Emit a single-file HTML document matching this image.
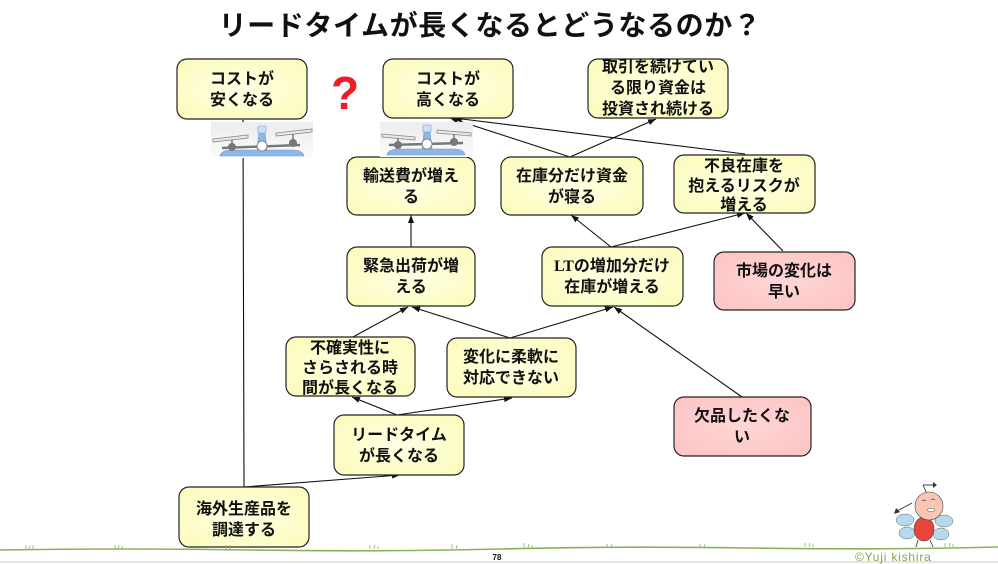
<!DOCTYPE html>
<html><head><meta charset="utf-8">
<style>
html,body{margin:0;padding:0;background:#fff;}
svg{display:block;}
text{font-family:"Liberation Sans","Noto Sans CJK JP",sans-serif;}
.t{font-size:16px;font-weight:bold;fill:#111;text-anchor:middle;}
</style></head>
<body>
<svg width="998" height="564" viewBox="0 0 998 564" xmlns="http://www.w3.org/2000/svg">
<defs>
<marker id="ah" markerWidth="8" markerHeight="6" refX="8" refY="3" orient="auto" markerUnits="userSpaceOnUse">
<path d="M0,0 L8,3 L0,6 z" fill="#111"/>
</marker>
<radialGradient id="yg" cx="50%" cy="50%" r="60%">
<stop offset="0%" stop-color="#ffffe4"/><stop offset="100%" stop-color="#fcfcc0"/>
</radialGradient>
<radialGradient id="pg" cx="50%" cy="50%" r="60%">
<stop offset="0%" stop-color="#ffd6d6"/><stop offset="100%" stop-color="#fdc6c6"/>
</radialGradient>
<linearGradient id="sg" x1="0" y1="0" x2="0" y2="1">
<stop offset="0%" stop-color="#ececec"/><stop offset="100%" stop-color="#fbfbfb"/>
</linearGradient>
</defs>

<!-- Title -->
<text x="490" y="35" text-anchor="middle" style="font-size:28px;font-weight:bold;fill:#111;letter-spacing:0.6px">リードタイムが長くなるとどうなるのか？</text>

<!-- connectors -->
<g stroke="#111" stroke-width="1.1" fill="none" marker-end="url(#ah)">
<line x1="244" y1="487" x2="243" y2="120"/>
<line x1="244" y1="487" x2="400" y2="475"/>
<line x1="397" y1="415" x2="352" y2="397"/>
<line x1="397" y1="415" x2="512" y2="398"/>
<line x1="353" y1="337" x2="408" y2="307"/>
<line x1="510" y1="338" x2="412" y2="307"/>
<line x1="510" y1="338" x2="613" y2="307"/>
<line x1="742" y1="397" x2="614" y2="307"/>
<line x1="411" y1="247" x2="411" y2="215"/>
<line x1="611" y1="247" x2="571" y2="215"/>
<line x1="611" y1="247" x2="745" y2="213"/>
<line x1="783" y1="251" x2="746" y2="213"/>
<line x1="570" y1="157" x2="656" y2="119"/>
<line x1="570" y1="157" x2="450" y2="118"/>
<line x1="745" y1="154" x2="454" y2="118"/>
</g>

<!-- boxes -->
<g stroke="#222" stroke-width="1.2">
<rect x="177" y="59" width="130" height="60" rx="10" fill="url(#yg)"/>
<rect x="383" y="59" width="130" height="59" rx="10" fill="url(#yg)"/>
<rect x="588" y="59" width="140" height="59" rx="10" fill="url(#yg)"/>
<rect x="347" y="157" width="128" height="58" rx="10" fill="url(#yg)"/>
<rect x="501" y="157" width="142" height="58" rx="10" fill="url(#yg)"/>
<rect x="674" y="155" width="141" height="58" rx="10" fill="url(#yg)"/>
<rect x="347" y="247" width="128" height="59" rx="10" fill="url(#yg)"/>
<rect x="542" y="247" width="141" height="59" rx="10" fill="url(#yg)"/>
<rect x="714" y="252" width="141" height="58" rx="10" fill="url(#pg)"/>
<rect x="286" y="337" width="129" height="59" rx="10" fill="url(#yg)"/>
<rect x="447" y="338" width="129" height="59" rx="10" fill="url(#yg)"/>
<rect x="674" y="397" width="137" height="59" rx="10" fill="url(#pg)"/>
<rect x="334" y="415" width="130" height="60" rx="10" fill="url(#yg)"/>
<rect x="179" y="487" width="130" height="60" rx="10" fill="url(#yg)"/>
</g>

<!-- box text -->
<text class="t" x="242" y="84">コストが</text>
<text class="t" x="242" y="105">安くなる</text>
<text class="t" x="448" y="84">コストが</text>
<text class="t" x="448" y="105">高くなる</text>
<text class="t" x="658" y="72">取引を続けてい</text>
<text class="t" x="658" y="93">る限り資金は</text>
<text class="t" x="658" y="114">投資され続ける</text>
<text class="t" x="411" y="181">輸送費が増え</text>
<text class="t" x="411" y="202">る</text>
<text class="t" x="572" y="181">在庫分だけ資金</text>
<text class="t" x="572" y="202">が寝る</text>
<text class="t" x="744" y="171">不良在庫を</text>
<text class="t" x="744" y="191">抱えるリスクが</text>
<text class="t" x="744" y="210">増える</text>
<text class="t" x="411" y="271">緊急出荷が増</text>
<text class="t" x="411" y="292">える</text>
<text class="t" x="612" y="271"><tspan style="font-family:'Liberation Serif',serif">LT</tspan>の増加分だけ</text>
<text class="t" x="612" y="292">在庫が増える</text>
<text class="t" x="784" y="276">市場の変化は</text>
<text class="t" x="784" y="297">早い</text>
<text class="t" x="350" y="353">不確実性に</text>
<text class="t" x="350" y="373">さらされる時</text>
<text class="t" x="350" y="393">間が長くなる</text>
<text class="t" x="511" y="362">変化に柔軟に</text>
<text class="t" x="511" y="383">対応できない</text>
<text class="t" x="742" y="421">欠品したくな</text>
<text class="t" x="742" y="442">い</text>
<text class="t" x="399" y="440">リードタイム</text>
<text class="t" x="399" y="461">が長くなる</text>
<text class="t" x="244" y="514">海外生産品を</text>
<text class="t" x="244" y="535">調達する</text>

<!-- red question mark -->
<text x="345" y="109" text-anchor="middle" style="font-size:46px;font-weight:bold;fill:#ee1c24">?</text>

<!-- scale images -->
<g>
<rect x="211" y="122" width="102" height="36" fill="url(#sg)"/>
<path d="M220,156 Q221,150 232,150 L292,150 Q303,150 304,156 Z" fill="#8db7e6" stroke="#6d9bd0" stroke-width="0.6"/>
<path d="M257,150 L259,133 L265,133 L267,150 Z" fill="#8db7e6" stroke="#6d9bd0" stroke-width="0.6"/>
<rect x="258" y="126" width="8" height="7" rx="1" fill="#cfe0f3" stroke="#6d9bd0" stroke-width="0.6"/>
<line x1="222" y1="148" x2="300" y2="145" stroke="#777" stroke-width="2.4"/>
<circle cx="262" cy="146" r="5" fill="#fff" stroke="#777" stroke-width="0.8"/>
<path d="M213,139 L248,135 L248,138 L213,142 Z" fill="#e8e8e8" stroke="#888" stroke-width="0.8"/>
<path d="M276,133 L312,129 L312,132 L276,136 Z" fill="#e8e8e8" stroke="#888" stroke-width="0.8"/>
<line x1="232" y1="140" x2="232" y2="147" stroke="#777" stroke-width="1.5"/>
<line x1="293" y1="134" x2="293" y2="144" stroke="#777" stroke-width="1.5"/>
<circle cx="232" cy="147" r="4" fill="#777"/>
<circle cx="293" cy="143" r="4" fill="#777"/>
</g>
<g transform="translate(169,0)">
<rect x="211" y="122" width="93" height="35" fill="url(#sg)"/>
<path d="M218,155 Q219,149 230,149 L285,149 Q295,149 296,155 Z" fill="#8db7e6" stroke="#6d9bd0" stroke-width="0.6"/>
<path d="M253,149 L255,132 L261,132 L263,149 Z" fill="#8db7e6" stroke="#6d9bd0" stroke-width="0.6"/>
<rect x="254" y="125" width="8" height="7" rx="1" fill="#cfe0f3" stroke="#6d9bd0" stroke-width="0.6"/>
<line x1="220" y1="145" x2="294" y2="143" stroke="#777" stroke-width="2.4"/>
<circle cx="258" cy="144" r="5" fill="#fff" stroke="#777" stroke-width="0.8"/>
<path d="M213,134 L246,137 L246,140 L213,137 Z" fill="#e8e8e8" stroke="#888" stroke-width="0.8"/>
<path d="M268,130 L302,133 L302,136 L268,133 Z" fill="#e8e8e8" stroke="#888" stroke-width="0.8"/>
<line x1="229" y1="138" x2="229" y2="145" stroke="#777" stroke-width="1.5"/>
<line x1="285" y1="134" x2="285" y2="142" stroke="#777" stroke-width="1.5"/>
<circle cx="229" cy="145" r="4" fill="#777"/>
<circle cx="285" cy="142" r="4" fill="#777"/>
</g>

<!-- grass ground -->
<path d="M0,550 Q120,548 250,550 T500,549 T750,548 T998,547" stroke="#8cb35c" stroke-width="1.6" fill="none"/>
<g stroke="#8cb35c" stroke-width="0.8" fill="none">
<path d="M26,549 l0,-4 M29,549 l1,-3 M33,549 l0,-4"/>
<path d="M115,549 l0,-4 M118,549 l1,-4 M122,549 l0,-3"/>
<path d="M226,549 l0,-4 M230,549 l1,-4"/>
<path d="M370,549 l0,-4 M374,549 l1,-4 M378,549 l0,-3"/>
<path d="M452,549 l0,-5 M456,549 l1,-4"/>
<path d="M524,548 l0,-5 M528,548 l1,-4 M532,548 l0,-3"/>
<path d="M607,548 l0,-4 M611,548 l1,-4"/>
<path d="M700,548 l0,-4 M704,548 l1,-4"/>
<path d="M805,547 l0,-4 M809,547 l1,-4 M813,547 l0,-3"/>
<path d="M945,547 l0,-4 M949,547 l1,-4 M953,547 l0,-3"/>
</g>
<line x1="0" y1="562" x2="998" y2="562" stroke="#d4d4d4" stroke-width="1.2"/>
<text x="497" y="560" text-anchor="middle" style="font-size:8px;font-weight:bold;fill:#111">78</text>
<text x="855" y="561" style="font-size:12px;fill:#7ea84a;letter-spacing:0.8px">©Yuji kishira</text>

<!-- character -->
<g>
<line x1="928" y1="496" x2="923" y2="485" stroke="#333" stroke-width="0.9"/>
<path d="M923,485 l10,0" stroke="#333" stroke-width="0.9"/>
<path d="M933,482 l4,3 l-4,3 z" fill="#333"/>
<line x1="912" y1="503" x2="897" y2="511" stroke="#333" stroke-width="0.9"/>
<path d="M894,514 l2,-6 l4,4 z" fill="#333"/>
<ellipse cx="905" cy="520" rx="9" ry="6" fill="#b8d8ec" stroke="#666" stroke-width="0.5"/>
<ellipse cx="907" cy="533" rx="8" ry="6" fill="#b8d8ec" stroke="#666" stroke-width="0.5"/>
<ellipse cx="944" cy="521" rx="9" ry="6" fill="#b8d8ec" stroke="#666" stroke-width="0.5"/>
<ellipse cx="941" cy="534" rx="8" ry="6" fill="#b8d8ec" stroke="#666" stroke-width="0.5"/>
<ellipse cx="924" cy="529" rx="10" ry="12" fill="#e8453c" stroke="#444" stroke-width="0.6"/>
<circle cx="929" cy="506" r="14" fill="#f7c7b4" stroke="#444" stroke-width="0.6"/>
<path d="M922,501 q2,-2 4,0 M931,500 q2,-2 4,0" stroke="#444" stroke-width="0.6" fill="none"/>
<ellipse cx="931" cy="510" rx="3.5" ry="1.8" fill="#fff" stroke="#444" stroke-width="0.5"/>
<line x1="918" y1="540" x2="916" y2="547" stroke="#444" stroke-width="0.9"/>
<line x1="930" y1="540" x2="933" y2="547" stroke="#444" stroke-width="0.9"/>
</g>
</svg>
</body></html>
